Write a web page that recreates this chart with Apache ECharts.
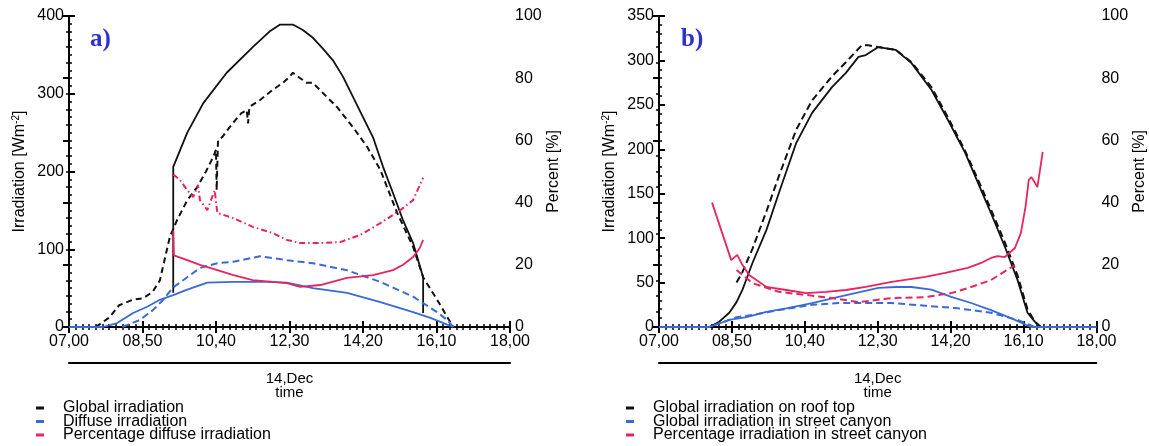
<!DOCTYPE html>
<html><head><meta charset="utf-8">
<script src="https://cdn.jsdelivr.net/npm/echarts@6/dist/echarts.min.js"></script>
<style>html,body{margin:0;padding:0;background:#fff}#c{width:1149px;height:446px}</style>
</head><body><div id="c"></div>
<script>
// x values: minutes after 07:00 on 14 Dec
const tickLabels = ['07,00','08,50','10,40','12,30','14,20','16,10','18,00'];

// Panel a) irradiation [W m-2]
const aGlobalSolid = [[156,44],[156,206],[177,250],[201,288],[236,327],[275,360],[300,380],[316,389],[335,389],[350,382],[365,372],[380,358],[395,343],[410,322],[425,296],[440,270],[455,244],[470,206],[485,172],[500,137],[515,108],[530,64],[530,18]];
const aGlobalDashed = [[40,0],[60,12],[75,28],[95,35],[111,37],[125,45],[136,60],[144,90],[151,116],[162,138],[177,163],[192,180],[205,200],[216,219],[220,228],[221,176],[223,240],[229,244],[245,262],[258,275],[266,279],[268,262],[270,283],[286,292],[305,305],[320,314],[328,320],[335,327],[346,320],[356,314],[365,314],[380,301],[401,283],[425,257],[446,232],[466,202],[491,147],[515,103],[530,64],[551,35],[566,13],[575,0]];
const aDiffuseSolid = [[0,0],[45,0],[51,0],[72,5],[96,18],[117,26],[136,35],[156,41],[177,48],[207,57],[246,58],[296,58],[326,57],[365,50],[416,44],[466,32],[515,19],[540,12],[566,3],[575,0]];
const aDiffuseDashed = [[80,0],[106,9],[126,22],[141,35],[156,51],[177,64],[196,76],[222,82],[246,84],[286,91],[326,86],[365,82],[416,73],[466,58],[515,39],[551,19],[566,9],[575,0]];
// Panel a) percent [%]
const aPctSolid = [[156,31],[157,23],[177,21.5],[196,20],[222,18.3],[246,16.7],[275,15.1],[305,14.5],[326,14.1],[346,12.9],[376,13.5],[416,15.8],[455,16.7],[485,18.3],[500,20],[515,22.5],[525,25.4],[530,28]];
const aPctDashDot = [[156,49],[166,47.3],[177,44],[186,41.8],[193,45.7],[196,40.8],[207,37.6],[218,44],[222,36.7],[246,35],[275,32.2],[305,30.2],[326,28],[346,27],[376,27],[406,27.3],[436,29.6],[466,33.4],[496,37.6],[515,40.8],[530,48]];

// Panel b) irradiation [W m-2]
const bRoofSolid = [[76,0],[91,6],[106,16],[117,28],[126,42],[132,54],[141,72],[162,109],[181,151],[207,207],[231,241],[261,270],[282,286],[301,304],[312,306],[331,315],[357,312],[381,297],[411,267],[436,233],[462,196],[486,154],[501,128],[522,90],[541,53],[556,16],[567,6],[576,0]];
const bRoofDashed = [[117,50],[126,62],[141,88],[162,130],[181,170],[207,222],[231,255],[261,282],[282,298],[306,317],[316,317],[331,315],[357,312],[381,298],[411,270],[436,236],[462,198],[486,158],[501,132],[522,95],[541,58],[556,20],[567,6],[576,0]];
const bCanyonSolid = [[0,0],[76,0],[106,8],[132,11],[162,17],[192,21],[231,27],[271,34],[301,39],[331,44],[357,45],[381,45],[411,42],[441,34],[471,27],[501,19],[531,10],[561,0],[660,0]];
const bCanyonDashed = [[0,0],[76,0],[117,11],[141,13.5],[181,19],[231,25],[271,27],[312,27],[351,27],[402,24],[451,21],[501,16],[541,8],[567,0],[660,0]];
// Panel b) percent [%]
const bPctSolid = [[80,40],[109,21.5],[118,23.2],[126,19.9],[136,16.7],[162,12.9],[192,11.9],[222,10.9],[252,11.3],[282,11.9],[312,12.9],[351,14.5],[402,16.1],[432,17.4],[466,19],[486,20.6],[501,22.2],[511,22.8],[522,22.5],[537,25.4],[546,30.2],[553,38.6],[558,47.3],[562,48.2],[571,45],[579,56.3]];
const bPctDashed = [[117,18.3],[141,14.1],[181,11.3],[222,10.3],[261,9.3],[301,8],[351,9.3],[402,9.6],[441,10.9],[466,12.5],[501,15.1],[537,19.9]];

const legendA = ['Global irradiation','Diffuse irradiation','Percentage diffuse irradiation'];
const legendB = ['Global irradiation on roof top','Global irradiation in street canyon','Percentage irradiation in street canyon'];

const FONT = "'Liberation Sans', Arial, Helvetica, sans-serif";
const BLACK = '#111111', BLUE = '#3a6ad4', PINK = '#e6245e';

function xBottom(gi){
  return {type:'value', gridIndex:gi, position:'bottom', min:0, max:660, interval:110,
    axisLine:{lineStyle:{color:'#000',width:2}},
    axisTick:{inside:true,length:6,lineStyle:{color:'#000',width:2}},
    minorTick:{show:true,splitNumber:11,length:3,lineStyle:{color:'#000',width:1.5}},
    splitLine:{show:false},
    axisLabel:{formatter:v=>tickLabels[Math.round(v/110)], fontSize:16, color:'#000', margin:7, fontFamily:FONT}};
}
function xTop(gi){
  return {type:'value', gridIndex:gi, position:'top', min:0, max:660, interval:110,
    axisLine:{lineStyle:{color:'#000',width:2}},
    axisTick:{inside:true,length:6,lineStyle:{color:'#000',width:2}},
    minorTick:{show:true,splitNumber:11,length:3,lineStyle:{color:'#000',width:1.5}},
    splitLine:{show:false}, axisLabel:{show:false}};
}
function xDate(gi){
  return {type:'value', gridIndex:gi, position:'bottom', offset:36, min:0, max:660, interval:110,
    axisLine:{show:true,lineStyle:{color:'#000',width:2}},
    axisTick:{show:false}, axisLabel:{show:false}, splitLine:{show:false},
    name:'14,Dec\ntime', nameLocation:'middle', nameGap:9,
    nameTextStyle:{fontSize:15, lineHeight:14, color:'#000', fontFamily:FONT}};
}
function yAxis(gi, pos, max, interval, minorSplit, name, gap){
  return {type:'value', gridIndex:gi, position:pos, min:0, max:max, interval:interval,
    axisLine:{show:true,lineStyle:{color:'#000',width:2}},
    axisTick:{inside:true,length:6,lineStyle:{color:'#000',width:2}},
    minorTick:{show:true,splitNumber:minorSplit,length:3,lineStyle:{color:'#000',width:1.5}},
    splitLine:{show:false},
    axisLabel:{fontSize:16, color:'#000', margin:5, fontFamily:FONT},
    name:name, nameLocation:'middle', nameGap:gap,
    nameTextStyle:{color:'#000', fontSize:16, fontFamily:FONT,
      rich:{a:{fontSize:16,color:'#000',fontFamily:FONT,verticalAlign:'bottom'},
            s:{fontSize:10,color:'#000',fontFamily:FONT,verticalAlign:'bottom',padding:[0,0,7,0]}}}};
}
const irrName = '{a|Irradiation [Wm}{s|-2}{a|]}';

function line(name, data, xi, yi, color, type, width){
  return {type:'line', name:name, data:data, xAxisIndex:xi, yAxisIndex:yi, showSymbol:false, symbol:'none',
    silent:true, animation:false, color:color,
    itemStyle:{color:color}, lineStyle:{color:color, width:width||1.8, type:type||'solid'}};
}

function legendItem(left, top, name){
  return {left:left, top:top, orient:'vertical', itemWidth:8, itemHeight:3, icon:'rect',
    selectedMode:false, data:[name], padding:0,
    textStyle:{fontSize:16, lineHeight:14, color:'#000', fontFamily:FONT, padding:[0,0,0,14]}};
}

const option = {
  backgroundColor:'#fff',
  animation:false,
  grid:[{left:69, top:16, width:441, height:311},{left:659, top:16, width:440, height:311}],
  xAxis:[xBottom(0), xTop(0), xDate(0), xBottom(1), xTop(1), xDate(1)],
  yAxis:[
    yAxis(0,'left',400,100,10,irrName,41),
    yAxis(0,'right',100,20,4,'Percent [%]',26),
    yAxis(1,'left',350,50,5,irrName,41),
    yAxis(1,'right',100,20,4,'Percent [%]',26)
  ],
  legend:[
    legendItem(36, 400, legendA[0]), legendItem(36, 413.5, legendA[1]), legendItem(36, 427, legendA[2]),
    legendItem(626, 400, legendB[0]), legendItem(626, 413.5, legendB[1]), legendItem(626, 427, legendB[2])
  ],
  graphic:[
    {type:'text', left:90, top:27, style:{text:'a)', font:"bold 25px 'Liberation Serif', 'Times New Roman', serif", fill:'#2b33c8'}},
    {type:'text', left:681, top:27, style:{text:'b)', font:"bold 25px 'Liberation Serif', 'Times New Roman', serif", fill:'#2b33c8'}}
  ],
  series:[
    line(legendA[0], aGlobalSolid, 0, 0, BLACK, 'solid', 1.8),
    line(legendA[0], aGlobalDashed, 0, 0, BLACK, [6,4], 2),
    line(legendA[1], aDiffuseSolid, 0, 0, BLUE, 'solid', 1.8),
    line(legendA[1], aDiffuseDashed, 0, 0, BLUE, [7,4], 2),
    line(legendA[2], aPctSolid, 0, 1, PINK, 'solid', 1.8),
    line(legendA[2], aPctDashDot, 0, 1, PINK, [6,3,1.5,3], 2),
    line(legendB[0], bRoofSolid, 3, 2, BLACK, 'solid', 1.8),
    line(legendB[0], bRoofDashed, 3, 2, BLACK, [7,4], 2),
    line(legendB[1], bCanyonSolid, 3, 2, BLUE, 'solid', 1.8),
    line(legendB[1], bCanyonDashed, 3, 2, BLUE, [7,4], 2),
    line(legendB[2], bPctSolid, 3, 3, PINK, 'solid', 1.8),
    line(legendB[2], bPctDashed, 3, 3, PINK, [7,4], 2)
  ]
};
const chart = echarts.init(document.getElementById('c'), null, {renderer:'canvas'});
chart.setOption(option);
</script></body></html>
